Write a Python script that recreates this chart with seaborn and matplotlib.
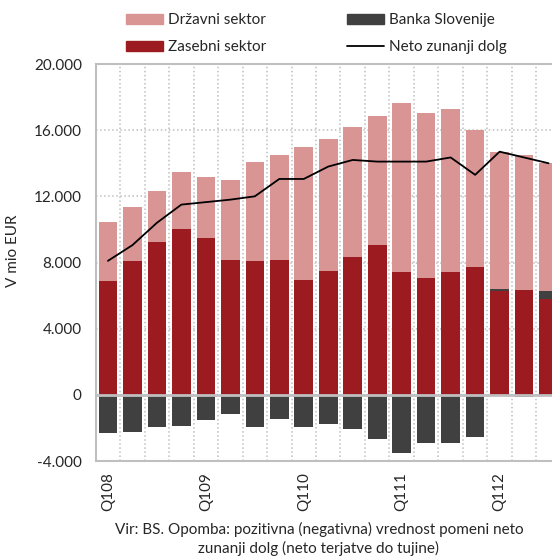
import matplotlib
matplotlib.use("Agg")
import matplotlib.pyplot as plt
import numpy as np
import seaborn as sns
from matplotlib.lines import Line2D
from matplotlib.patches import Patch


QUARTERS = [
    "Q108", "Q208", "Q308", "Q408",
    "Q109", "Q209", "Q309", "Q409",
    "Q110", "Q210", "Q310", "Q410",
    "Q111", "Q211", "Q311", "Q411",
    "Q112", "Q212", "Q312",
]
TICK_LABELS = ["Q108", "Q109", "Q110", "Q111", "Q112"]

# V mio EUR
ZASEBNI = [6900, 8100, 9250, 10000, 9500, 8150, 8100, 8150, 6950, 7500,
           8350, 9050, 7400, 7050, 7400, 7750, 6300, 6350, 5800]
DRZAVNI = [3550, 3250, 3050, 3450, 3650, 4850, 5950, 6350, 8050, 7950,
           7850, 7800, 10250, 10000, 9900, 8250, 8250, 8150, 7700]
BANKA = [-2300, -2250, -1950, -1900, -1500, -1150, -1950, -1450, -1950, -1780,
         -2050, -2700, -3500, -2900, -2900, -2550, 100, -120, 500]
NETO = [8100, 9050, 10400, 11500, 11650, 11800, 12000, 13050, 13050, 13800,
        14200, 14100, 14100, 14100, 14350, 13300, 14700, 14350, 14000]

COLOR_DRZAVNI = "#d99594"
COLOR_ZASEBNI = "#9b1b20"
COLOR_BANKA = "#404040"
GRID_COLOR = "#bfbfbf"
BAR_WIDTH = 0.76

sns.set_style("white")
plt.rcParams["font.family"] = ["Lato", "DejaVu Sans"]
plt.rcParams["font.size"] = 11

zasebni = np.array(ZASEBNI)
drzavni = np.array(DRZAVNI)
banka = np.array(BANKA)
banka_pos = np.clip(banka, 0, None)
banka_neg = np.clip(banka, None, 0)

fig = plt.figure(figsize=(5.52, 5.57), dpi=100)
ax = fig.add_axes([95.7 / 552, 1 - 461 / 557, 1 - 95.7 / 552, (461 - 64) / 557])

bar_kws = dict(ax=ax, width=BAR_WIDTH, saturation=1, linewidth=0, zorder=2)
# layered bars: zasebni, banka (positive) and drzavni stacked upwards
sns.barplot(x=QUARTERS, y=zasebni + banka_pos + drzavni, color=COLOR_DRZAVNI, **bar_kws)
sns.barplot(x=QUARTERS, y=zasebni + banka_pos, color=COLOR_BANKA, **bar_kws)
sns.barplot(x=QUARTERS, y=zasebni, color=COLOR_ZASEBNI, **bar_kws)
sns.barplot(x=QUARTERS, y=banka_neg, color=COLOR_BANKA, **bar_kws)

positions = np.arange(len(QUARTERS))
ax.plot(positions, NETO, color="black", linewidth=1.3, zorder=4)

ax.set_xlim(-0.5, 18.14)
ax.set_ylim(-4000, 20000)
ax.set_yticks(np.arange(-4000, 20001, 4000))
ax.set_yticklabels([f"{v:,}".replace(",", ".") for v in range(-4000, 20001, 4000)])
ax.set_xticks(positions[::4])
ax.set_xticklabels(TICK_LABELS, rotation=90)
ax.set_xticks(positions[:-1] + 0.5, minor=True)
ax.tick_params(axis="both", which="both", length=0, labelsize=11)
ax.tick_params(axis="y", pad=10)
ax.tick_params(axis="x", pad=8)

ax.grid(axis="y", which="major", linestyle=":", color=GRID_COLOR, linewidth=1.1, zorder=0)
ax.grid(axis="x", which="minor", linestyle=":", color=GRID_COLOR, linewidth=1.1, zorder=0)
ax.set_axisbelow(True)
ax.axhline(0, color=GRID_COLOR, linewidth=2, zorder=3)

for side in ["left", "bottom", "top"]:
    ax.spines[side].set_color(GRID_COLOR)
    ax.spines[side].set_linewidth(1.5)
ax.spines["right"].set_visible(False)

ax.set_xlabel("")
ax.set_ylabel("V mio EUR", fontsize=11)
ax.yaxis.set_label_coords(-0.165, 0.53)

handles = [
    Patch(color=COLOR_DRZAVNI, label="Državni sektor"),
    Patch(color=COLOR_ZASEBNI, label="Zasebni sektor"),
    Patch(color=COLOR_BANKA, label="Banka Slovenije"),
    Line2D([], [], color="black", linewidth=1.3, label="Neto zunanji dolg"),
]
fig.legend(
    handles=handles,
    ncol=2,
    loc="upper left",
    bbox_to_anchor=(126 / 552, 1 - 13 / 557),
    frameon=False,
    fontsize=11,
    handlelength=2.4,
    handleheight=0.65,
    handletextpad=0.35,
    columnspacing=5.3,
    labelspacing=0.85,
    borderpad=0,
    borderaxespad=0,
)

fig.text(
    319 / 552, 1 - 539 / 557,
    "Vir: BS. Opomba: pozitivna (negativna) vrednost pomeni neto\n"
    "zunanji dolg (neto terjatve do tujine)",
    ha="center", va="center", fontsize=11, linespacing=1.25,
)

fig.savefig("out.png", dpi=100)
